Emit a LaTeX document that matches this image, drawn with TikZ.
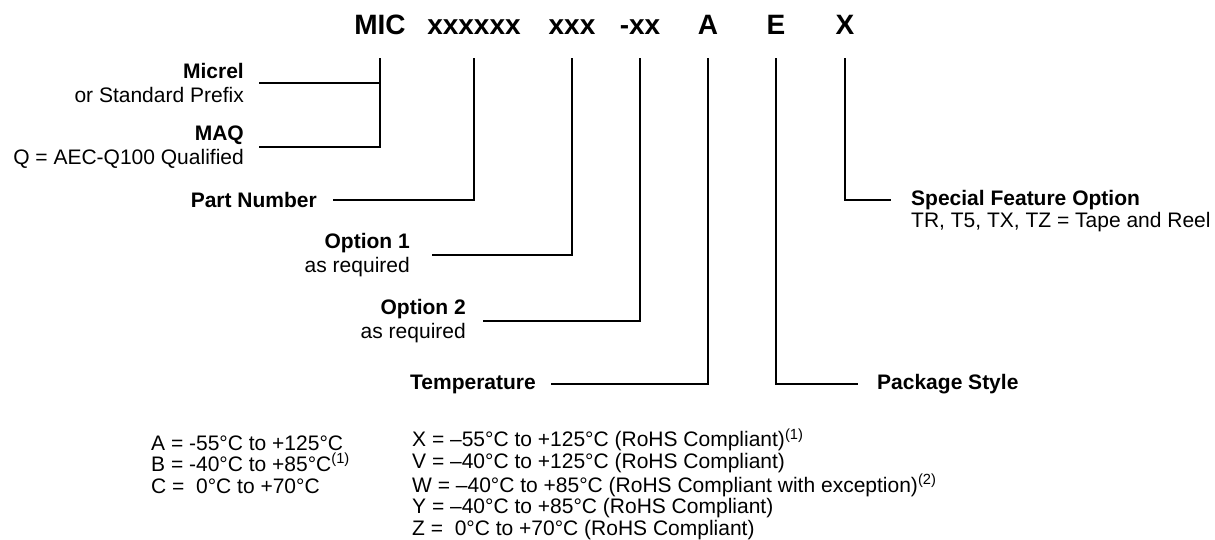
\documentclass[tikz,border=0pt]{standalone}
\usepackage{fontspec}
\setmainfont{Liberation Sans}
\begin{document}
\begin{tikzpicture}[x=1pt,y=-1pt,
  code/.style={font=\fontsize{28}{32}\selectfont\bfseries, inner sep=0pt, anchor=base},
  lab/.style={font=\fontsize{21}{24.5}\selectfont, inner sep=0pt, align=right},
  labl/.style={font=\fontsize{21}{24.5}\selectfont, inner sep=0pt, align=left},
  lst/.style={font=\fontsize{21}{21.5}\selectfont, inner sep=0pt, align=left, anchor=base west},
  conn/.style={line width=1.8pt}]
\useasboundingbox (0,0) rectangle (1215,539);
% code letters
\node[code] (mic) at (380,34) {MIC};
\node[code] (pn)  at (474,34) {xxxxxx};
\node[code] (o1)  at (572,34) {xxx};
\node[code] (o2)  at (640,34) {-xx};
\node[code] (tc)  at (708,34) {A};
\node[code] (pc)  at (776,34) {E};
\node[code] (sf)  at (845,34) {X};
\coordinate (micT) at (380,58);
\coordinate (pnT)  at (474,58);
\coordinate (o1T)  at (572,58);
\coordinate (o2T)  at (640,58);
\coordinate (tcT)  at (708,58);
\coordinate (pcT)  at (776,58);
\coordinate (sfT)  at (845,58);
% labels
\node[lab, anchor=east] (micrel) at (244,83) {\textbf{Micrel}\\or Standard Prefix};
\node[lab, anchor=east] (maq) at (244,147) {\textbf{MAQ}\\Q = AEC-Q100 Qualified};
\node[lab, anchor=east] (part) at (317,200) {\textbf{Part Number}};
\node[lab, anchor=east] (opt1) at (410,255) {\textbf{Option 1}\\as required};
\node[lab, anchor=east] (opt2) at (466,321) {\textbf{Option 2}\\as required};
\node[lab, anchor=east] (temp) at (536,384) {\textbf{Temperature}};
\node[labl, anchor=west] (pkg) at (877,384) {\textbf{Package Style}};
\node[labl, anchor=west] (sfo) at (911,200) {\textbf{Special Feature Option}};
\node[labl, anchor=base west] (sfd) at (911,227) {TR, T5, TX, TZ = Tape and Reel};
% connectors
\draw[conn] ([xshift=15pt]micrel.east) -| (micT);
\draw[conn] ([xshift=15pt]maq.east) -| (micT);
\draw[conn] ([xshift=16pt]part.east) -| (pnT);
\draw[conn] ([xshift=22pt]opt1.east) -| (o1T);
\draw[conn] ([xshift=17pt]opt2.east) -| (o2T);
\draw[conn] ([xshift=15pt]temp.east) -| (tcT);
\draw[conn] (pcT) |- ([xshift=-19pt]pkg.west);
\draw[conn] (sfT) |- ([xshift=-20pt]sfo.west);
% lists (anchored at the baseline of their last line)
\node[lst] (tl) at (151,493) {A = -55°C to +125°C\\B = -40°C to +85°C\textsuperscript{(1)}\\C = \ 0°C to +70°C};
\node[lst] (tr) at (412,535) {X = –55°C to +125°C (RoHS Compliant)\textsuperscript{(1)}\\V = –40°C to +125°C (RoHS Compliant)\\W = –40°C to +85°C (RoHS Compliant with exception)\textsuperscript{(2)}\\Y = –40°C to +85°C (RoHS Compliant)\\Z = \ 0°C to +70°C (RoHS Compliant)};
\end{tikzpicture}
\end{document}
